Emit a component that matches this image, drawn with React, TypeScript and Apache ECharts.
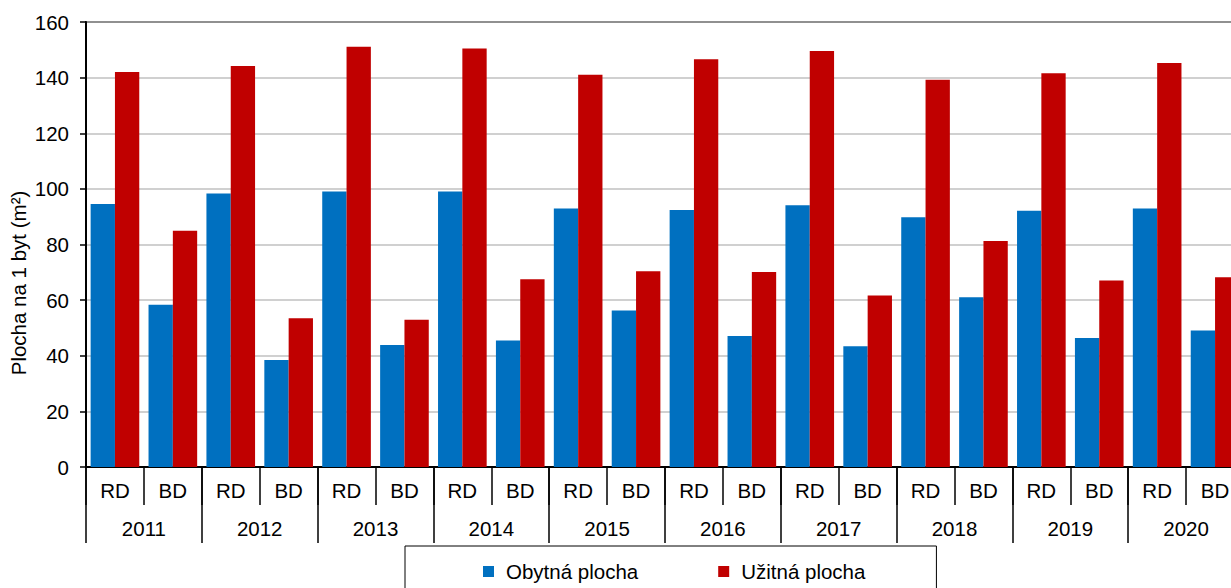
import React, { useEffect, useRef } from "react";
import * as echarts from "echarts";

const years = ["2011", "2012", "2013", "2014", "2015", "2016", "2017", "2018", "2019", "2020"];
const types = ["RD", "BD"];
const obytnaPlocha = [94.6, 58.3, 98.3, 38.5, 99.1, 43.9, 99.1, 45.5, 92.9, 56.3, 92.4, 47.1, 94.1, 43.4, 89.8, 61.0, 92.1, 46.4, 92.9, 49.1];
const uzitnaPlocha = [142.0, 84.9, 144.2, 53.5, 151.1, 52.9, 150.5, 67.5, 141.0, 70.4, 146.6, 70.1, 149.6, 61.7, 139.2, 81.3, 141.6, 67.1, 145.3, 68.2];
const seriesNames = ["Obytná plocha", "Užitná plocha"];
const yTitle = "Plocha na 1 byt (m²)";

const categories = years.flatMap((y) => types.map((t) => y + "|" + t));
const FONT = '"Liberation Sans", Arial, sans-serif';
const FS = 20.5;

export default function App() {
  const ref = useRef<HTMLDivElement>(null);
  useEffect(() => {
    if (!ref.current) return;
    const chart = echarts.init(ref.current, null, { renderer: "svg" });
    chart.setOption({
      animation: false,
      textStyle: { fontFamily: FONT, color: "#000" },
      grid: {
        left: 86,
        right: 16,
        top: 22,
        bottom: 121,
        show: true,
        borderColor: "#000",
        borderWidth: 2,
        backgroundColor: "transparent",
      },
      xAxis: [
        {
          type: "category",
          position: "bottom",
          data: categories,
          axisLine: { lineStyle: { color: "#000", width: 2 } },
          axisTick: { show: true, interval: 0, length: 38, lineStyle: { color: "#000", width: 1.5 } },
          axisLabel: {
            interval: 0,
            margin: 13,
            fontSize: FS,
            fontFamily: FONT,
            color: "#000",
            formatter: (v: string) => v.split("|")[1],
          },
        },
        {
          type: "category",
          position: "bottom",
          data: years,
          axisLine: { show: false },
          axisTick: { show: true, interval: 0, length: 76, lineStyle: { color: "#000", width: 1.5 } },
          axisLabel: { interval: 0, margin: 51, fontSize: FS, fontFamily: FONT, color: "#000" },
        },
      ],
      yAxis: {
        type: "value",
        min: 0,
        max: 160,
        interval: 20,
        axisLine: { show: true, lineStyle: { color: "#000", width: 2 } },
        axisTick: { show: true, length: 6, lineStyle: { color: "#000", width: 1.5 } },
        axisLabel: { margin: 17, fontSize: FS, fontFamily: FONT, color: "#000" },
        splitLine: { lineStyle: { color: "#c0c0c0", width: 1.5 } },
      },
      legend: {
        left: 405,
        top: 546,
        orient: "horizontal",
        icon: "rect",
        itemWidth: 11,
        itemHeight: 11,
        itemGap: 80,
        padding: [15, 71, 30, 78],
        borderColor: "#000",
        borderWidth: 1,
        textStyle: { fontSize: FS, fontFamily: FONT, color: "#000", padding: [0, 0, 0, 7] },
        data: seriesNames,
      },
      graphic: [
        {
          type: "text",
          x: 18,
          y: 283,
          rotation: Math.PI / 2,
          style: {
            text: yTitle,
            fontSize: FS,
            fontFamily: FONT,
            fill: "#000",
            align: "center",
            verticalAlign: "middle",
          },
        },
      ],
      series: [
        {
          name: seriesNames[0],
          type: "bar",
          xAxisIndex: 0,
          data: obytnaPlocha,
          barGap: "0%",
          barCategoryGap: "16%",
          itemStyle: { color: "#0070C0" },
        },
        {
          name: seriesNames[1],
          type: "bar",
          xAxisIndex: 0,
          data: uzitnaPlocha,
          barGap: "0%",
          barCategoryGap: "16%",
          itemStyle: { color: "#C00000" },
        },
      ],
    });
    return () => chart.dispose();
  }, []);
  return (
    <div style={{ position: "fixed", left: 0, top: 0, width: 1231, height: 588, overflow: "hidden", background: "#fff" }}>
      <div ref={ref} style={{ width: 1260, height: 588 }} />
    </div>
  );
}
